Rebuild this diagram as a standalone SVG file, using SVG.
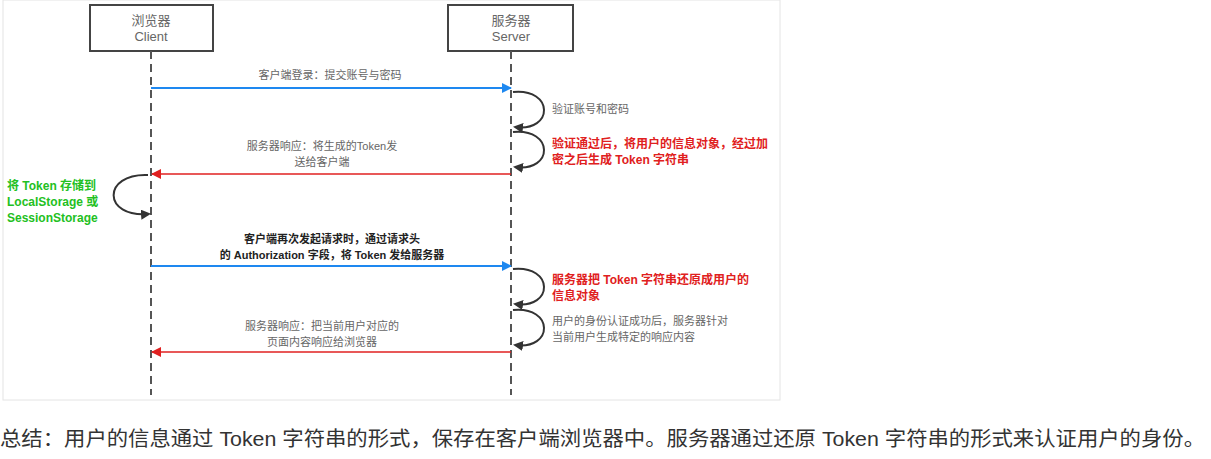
<svg xmlns="http://www.w3.org/2000/svg" width="1211" height="459" viewBox="0 0 1211 459">
<defs>
<marker id="ab" markerWidth="10" markerHeight="10" refX="9" refY="5" orient="auto" markerUnits="userSpaceOnUse"><path d="M0,0 L10,5 L0,10 Z" fill="#1e88f0"/></marker>
<marker id="ar" markerWidth="10" markerHeight="10" refX="9" refY="5" orient="auto" markerUnits="userSpaceOnUse"><path d="M0,0 L10,5 L0,10 Z" fill="#e02020"/></marker>
<marker id="ak" markerWidth="10" markerHeight="10" refX="8" refY="5" orient="auto" markerUnits="userSpaceOnUse"><path d="M0,0 L10,5 L0,10 Z" fill="#333"/></marker>
</defs>
<style>
text{font-family:"Liberation Sans","Noto Sans CJK SC",sans-serif}
.box{fill:#fff;stroke:#444;stroke-width:2}
.life{stroke:#555;stroke-width:2;stroke-dasharray:8,5}
.gl{fill:#666;font-size:11px}
.nd{fill:#666;font-size:13px}
.rd{fill:#e02020;font-size:12px;font-weight:bold}
.gr{fill:#22c022;font-size:12px;font-weight:bold}
.bk{fill:#222;font-size:11px;font-weight:bold}
.loop{fill:none;stroke:#333;stroke-width:2}
</style>
<rect width="1211" height="459" fill="#fff"/>
<rect x="3" y="0" width="777" height="400" fill="#fff" stroke="#e4e4e4"/>
<g id="client"><rect class="box" x="90" y="5" width="123" height="46"/><text class="nd" x="151" y="25" text-anchor="middle">浏览器</text><text class="nd" x="151" y="41" text-anchor="middle">Client</text></g>
<g id="server"><rect class="box" x="448" y="5" width="125" height="46"/><text class="nd" x="511" y="25" text-anchor="middle">服务器</text><text class="nd" x="511" y="41" text-anchor="middle">Server</text></g>
<g id="connectors">
<line class="life" x1="151" y1="51" x2="151" y2="395"/>
<line class="life" x1="511" y1="51" x2="511" y2="395"/>
<line x1="151" y1="88" x2="511" y2="88" stroke="#1e88f0" stroke-width="2" marker-end="url(#ab)"/>
<line x1="511" y1="174" x2="152" y2="174" stroke="#e02020" stroke-width="1.5" marker-end="url(#ar)"/>
<line x1="151" y1="266" x2="511" y2="266" stroke="#1e88f0" stroke-width="2" marker-end="url(#ab)"/>
<line x1="511" y1="352" x2="152" y2="352" stroke="#e02020" stroke-width="1.5" marker-end="url(#ar)"/>
<path class="loop" d="M513,92 C554,88 554,132 515,127" marker-end="url(#ak)"/>
<path class="loop" d="M513,132 C554,128 554,172 515,167" marker-end="url(#ak)"/>
<path class="loop" d="M513,269 C554,265 554,309 515,304" marker-end="url(#ak)"/>
<path class="loop" d="M513,310 C554,306 554,350 515,345" marker-end="url(#ak)"/>
<path class="loop" d="M148,175 C102,173 102,218 149,214" marker-end="url(#ak)"/>
</g>
<g id="labels">
<text class="gl" x="330" y="79" text-anchor="middle">客户端登录：提交账号与密码</text>
<text class="gl" x="552" y="113">验证账号和密码</text>
<text class="gl" x="322" y="150" text-anchor="middle">服务器响应：将生成的Token发</text>
<text class="gl" x="322" y="166" text-anchor="middle">送给客户端</text>
<text class="rd" x="552" y="148">验证通过后，将用户的信息对象，经过加</text>
<text class="rd" x="552" y="164">密之后生成 Token 字符串</text>
<text class="gr" x="7" y="190">将 Token 存储到</text>
<text class="gr" x="7" y="206">LocalStorage 或</text>
<text class="gr" x="7" y="222">SessionStorage</text>
<text class="bk" x="332" y="243" text-anchor="middle">客户端再次发起请求时，通过请求头</text>
<text class="bk" x="332" y="259" text-anchor="middle">的 Authorization 字段，将 Token 发给服务器</text>
<text class="rd" x="552" y="284">服务器把 Token 字符串还原成用户的</text>
<text class="rd" x="552" y="300">信息对象</text>
<text class="gl" x="552" y="325">用户的身份认证成功后，服务器针对</text>
<text class="gl" x="552" y="341">当前用户生成特定的响应内容</text>
<text class="gl" x="322" y="330" text-anchor="middle">服务器响应：把当前用户对应的</text>
<text class="gl" x="322" y="346" text-anchor="middle">页面内容响应给浏览器</text>
</g>
<text x="0" y="446" font-size="20" fill="#333" textLength="1205" lengthAdjust="spacingAndGlyphs">总结：用户的信息通过 Token 字符串的形式，保存在客户端浏览器中。服务器通过还原 Token 字符串的形式来认证用户的身份。</text>
</svg>
